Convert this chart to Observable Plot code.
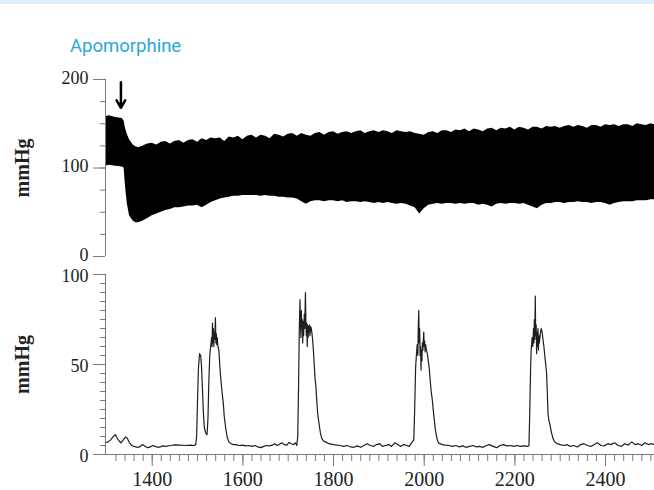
<!DOCTYPE html>
<html>
<head>
<meta charset="utf-8">
<script src="https://cdn.jsdelivr.net/npm/d3@7"></script>
<script src="https://cdn.jsdelivr.net/npm/@observablehq/plot@0.6"></script>
<style>
  html, body { margin: 0; padding: 0; background: #fff; }
  #page { position: relative; width: 654px; height: 490px; overflow: hidden; }
  #band { position: absolute; left: 0; top: 0; width: 654px; height: 4px; background: #e1f0f8; }
  #title { position: absolute; left: 70px; top: 37px; font-family: Roboto, sans-serif; font-size: 18.5px; line-height: 1; color: #29a9d2; white-space: nowrap; }
  #top, #bottom { position: absolute; left: 0; }
  #top { top: 0; }
  #bottom { top: 260px; }
</style>
</head>
<body>
<div id="page">
  <div id="band"></div>
  <div id="title">Apomorphine</div>
  <div id="top"></div>
  <div id="bottom"></div>
</div>
<script>
// ---- Data ----
const xDomain = [1297, 2508];
const xTicks = [1400, 1600, 1800, 2000, 2200, 2400];
const topYTicks = [0, 100, 200];
const botYTicks = [0, 50, 100];
const yLabel = "mmHg";
const arrowX = 1331, arrowFrom = 197, arrowTo = 168;

// Top panel: arterial pressure envelope (upper / lower), mmHg
const topX = [1297, 1305, 1320, 1334, 1338, 1341, 1345, 1350, 1358, 1364,
  1370, 1380, 1390, 1400, 1410, 1420, 1430, 1440, 1450, 1460, 1470, 1480, 1490, 1500, 1510, 1520, 1530, 1540, 1550, 1560,
  1570, 1580, 1590, 1600, 1610, 1620, 1630, 1640, 1650, 1660, 1670, 1680, 1690, 1700, 1710, 1720, 1730, 1740, 1750, 1760,
  1770, 1780, 1790, 1800, 1810, 1820, 1830, 1840, 1850, 1860, 1870, 1880, 1890, 1900, 1910, 1920, 1930, 1940, 1950, 1960,
  1970, 1980, 1990, 2000, 2010, 2020, 2030, 2040, 2050, 2060, 2070, 2080, 2090, 2100, 2110, 2120, 2130, 2140, 2150, 2160,
  2170, 2180, 2190, 2200, 2210, 2220, 2230, 2240, 2250, 2260, 2270, 2280, 2290, 2300, 2310, 2320, 2330, 2340, 2350, 2360,
  2370, 2380, 2390, 2400, 2410, 2420, 2430, 2440, 2450, 2460, 2470, 2480, 2490, 2500, 2508];
const topUpper = [158, 159, 157, 156, 153, 145, 138, 132, 126, 124,
  123, 125, 127, 128, 126, 129, 130, 127, 130, 131, 128, 131, 132, 129, 133, 131, 134, 133, 134, 130,
  135, 134, 136, 132, 136, 137, 134, 137, 136, 133, 138, 137, 135, 138, 139, 136, 139, 137, 136, 139,
  140, 137, 140, 141, 138, 140, 141, 139, 141, 142, 139, 141, 142, 140, 142, 141, 139, 142, 141, 140,
  141, 139, 138, 137, 140, 141, 139, 142, 142, 140, 143, 142, 144, 141, 144, 143, 141, 144, 145, 142,
  145, 144, 146, 143, 146, 145, 143, 146, 146, 144, 147, 146, 147, 145, 147, 148, 146, 148, 147, 145,
  148, 148, 146, 149, 148, 149, 147, 149, 149, 147, 150, 149, 148, 150, 149];
const topLower = [102, 103, 102, 101, 100, 80, 60, 46, 40, 38,
  38, 40, 43, 46, 48, 50, 52, 53, 55, 55, 56, 57, 57, 58, 55, 58, 61, 63, 65, 66,
  67, 68, 68, 69, 69, 69, 69, 68, 69, 68, 68, 67, 67, 66, 66, 65, 62, 59, 62, 63,
  63, 62, 63, 63, 62, 63, 61, 62, 62, 61, 62, 61, 60, 61, 60, 61, 60, 59, 60, 59,
  57, 55, 48, 54, 58, 59, 60, 59, 60, 60, 59, 60, 59, 60, 60, 58, 59, 58, 56, 59,
  60, 59, 60, 60, 59, 60, 58, 56, 54, 58, 60, 60, 61, 61, 60, 61, 61, 62, 61, 61,
  60, 61, 61, 60, 58, 60, 61, 62, 62, 62, 63, 63, 63, 64, 64];

// Bottom panel: pressure trace, mmHg
const botX = [
  1297, 1303, 1308, 1314, 1319, 1323, 1327, 1331, 1336, 1341, 1345, 1350, 1355, 1360, 1366, 1372, 1379, 1385, 1390, 1396, 1401, 1407, 1412, 1418, 1423, 1430, 1440, 1450, 1462, 1473, 1485, 1492, 1496,
  1498, 1500, 1502, 1504.5, 1507, 1509, 1511, 1513, 1515, 1518, 1521, 1523, 1525, 1527, 1529, 1531, 1532, 1533, 1534, 1535, 1536, 1537, 1538, 1539.5, 1540.5, 1541.5, 1542.5, 1543.5, 1545, 1547, 1549, 1551, 1554, 1557, 1559, 1562, 1565, 1569, 1574, 1579,
  1585, 1592, 1600, 1607, 1613, 1620, 1627, 1633, 1640, 1646, 1652, 1659, 1665, 1670, 1675, 1680, 1686, 1691, 1697, 1702, 1707, 1712, 1716, 1719,
  1721, 1723, 1724.5, 1726, 1727, 1728, 1729, 1730, 1731, 1732, 1733, 1734, 1735.5, 1736.5, 1738, 1739, 1740, 1741, 1742, 1743, 1744, 1745, 1746, 1747, 1748, 1749.5, 1751, 1753, 1755, 1757, 1759, 1761, 1763, 1765, 1768, 1771, 1774, 1778, 1782, 1790, 1800,
  1808, 1815, 1822, 1830, 1838, 1845, 1852, 1860, 1867, 1874, 1881, 1888, 1895, 1902, 1908, 1915, 1922, 1928, 1935, 1942, 1948, 1955, 1962, 1967, 1971, 1975,
  1977, 1979, 1981, 1983, 1984.5, 1986, 1987, 1988, 1989, 1990, 1991, 1992, 1993, 1994, 1995, 1996, 1997, 1999, 2000, 2001, 2002, 2003, 2005, 2007, 2009, 2011, 2013, 2015, 2018, 2021, 2025, 2029, 2032, 2040, 2047,
  2055, 2062, 2070, 2078, 2085, 2092, 2100, 2108, 2115, 2122, 2130, 2137, 2144, 2152, 2160, 2167, 2175, 2182, 2190, 2198, 2205, 2212, 2220, 2228, 2231,
  2233, 2234.6, 2236, 2238, 2239.5, 2241, 2242, 2243, 2244, 2245, 2246, 2247, 2248, 2249, 2250, 2251, 2252, 2253, 2254, 2256, 2258, 2260, 2262, 2264, 2266, 2268, 2270, 2271.5, 2273, 2275, 2277, 2280, 2284, 2288, 2293, 2300,
  2308, 2315, 2322, 2330, 2338, 2345, 2352, 2360, 2368, 2375, 2382, 2390, 2397, 2405, 2412, 2420, 2428, 2435, 2442, 2450, 2458, 2465, 2472, 2480, 2487, 2494, 2500, 2508
];
const botY = [
  6.5, 7, 8, 10, 11, 9, 7.5, 6.5, 8, 9.8, 9, 6.5, 5, 4.5, 4, 4.2, 5.5, 4.5, 3.8, 4.2, 5, 4.5, 4, 4.2, 4.8, 4.5, 5, 5.3, 5.2, 5, 5.2, 5, 5.5,
  10, 30, 48, 56, 55, 48, 35, 23, 15, 12, 11, 20, 41, 55, 60, 65, 60, 73, 62, 70, 60, 68, 64, 76, 62, 67, 61, 65, 60, 58, 50, 43, 35, 28, 21, 15, 10, 7, 6, 5.5,
  5.5, 5, 5.2, 4.8, 5, 4.5, 5, 4.2, 3.8, 4.5, 5, 4.8, 5.2, 6, 5, 5.5, 6.5, 5.5, 5.2, 6.7, 6, 5.5, 6.5, 5,
  10, 40, 70, 86, 72, 65, 80, 70, 75, 62, 74, 66, 78, 70, 90, 74, 66, 73, 60, 72, 65, 71, 68, 72, 66, 71, 70, 66, 60, 52, 43, 38, 30, 23, 17, 12, 9, 7.5, 7, 6, 5.5,
  5.2, 5, 4.5, 5, 4.2, 4, 4.8, 4, 5, 6, 5, 4.5, 5.5, 6, 4.5, 5, 5.5, 4.5, 6.5, 5.5, 4.5, 5.5, 5, 4.5, 6, 7.5,
  8, 25, 48, 56, 61, 55, 72, 80, 62, 70, 55, 60, 47, 58, 52, 62, 58, 68, 60, 63, 57, 61, 58, 56, 52, 48, 42, 36, 30, 22, 13, 8, 6.3, 5.5, 5.2,
  5, 4.5, 5, 4.2, 4.8, 4, 4.5, 5, 4.2, 4.5, 4, 5, 5.5, 4.5, 3.8, 5, 5.5, 4.8, 5, 4.5, 5, 4.5, 4.8, 4.5, 5,
  25, 47, 58, 65, 60, 70, 62, 75, 64, 88, 66, 72, 56, 68, 60, 70, 58, 66, 62, 67, 70, 68, 64, 60, 55, 50, 45, 35, 23, 19, 17, 13, 9, 7, 6, 5.5,
  5, 5.5, 4.5, 5, 4.2, 5.5, 6, 5, 4.5, 5.5, 6.5, 5, 4.8, 6, 5.5, 6.5, 5, 4.5, 6, 5.2, 7, 5.5, 6, 5, 6.5, 5.5, 6, 5.5
];

// ---- Build tables ----
const topData = topX.map((x, i) => ({x, lo: topLower[i], hi: topUpper[i]}));
const botData = botX.map((x, i) => ({x, y: botY[i]}));

const axisGray = "#7a7a7a";
const textCol = "#222";
const font = {fontFamily: "'Liberation Serif', 'Times New Roman', serif", fontSize: "20px", background: "transparent", overflow: "visible"};

const topPlot = Plot.plot({
  width: 654, height: 260,
  marginLeft: 105, marginRight: 0, marginTop: 79, marginBottom: 4,
  style: font,
  x: {domain: xDomain, axis: null},
  y: {domain: [0, 200], axis: null},
  marks: [
    Plot.areaY(topData, {x: "x", y1: "lo", y2: "hi", fill: "#000", curve: "linear"}),
    Plot.ruleX([xDomain[0]], {y1: 0, y2: 200, stroke: axisGray}),
    Plot.axisY({ticks: d3.range(0, 201, 25), tickSize: 5, text: null, label: null, stroke: axisGray}),
    Plot.axisY({ticks: topYTicks, tickSize: 12, text: null, label: null, stroke: axisGray}),
    Plot.axisY({ticks: topYTicks, tickSize: 0, tickPadding: 17, label: null, fontSize: 18, dy: -1.5, fill: textCol}),
    Plot.text([yLabel], {frameAnchor: "left", textAnchor: "middle", dx: -83, rotate: -90, fontWeight: "bold", fill: textCol}),
    Plot.arrow([{x: arrowX, y1: arrowFrom, y2: arrowTo}], {x: "x", y1: "y1", y2: "y2", stroke: "#000", strokeWidth: 2.5, headLength: 13, headAngle: 60})
  ]
});
document.getElementById("top").appendChild(topPlot);

const botPlot = Plot.plot({
  width: 654, height: 230,
  marginLeft: 105, marginRight: 0, marginTop: 14, marginBottom: 36,
  style: font,
  x: {domain: xDomain, axis: null},
  y: {domain: [0, 100], axis: null},
  marks: [
    Plot.line(botData, {x: "x", y: "y", stroke: "#1e1e1e", strokeWidth: 1.2}),
    Plot.ruleX([xDomain[0]], {y1: 0, y2: 100, stroke: axisGray}),
    Plot.ruleY([0], {stroke: axisGray}),
    Plot.axisY({ticks: d3.range(0, 101, 5), tickSize: 5, text: null, label: null, stroke: axisGray}),
    Plot.axisY({ticks: botYTicks, tickSize: 12, text: null, label: null, stroke: axisGray}),
    Plot.axisY({ticks: botYTicks, tickSize: 0, tickPadding: 17, label: null, fontSize: 18, dy: 1.5, fill: textCol}),
    Plot.axisX({ticks: d3.range(1320, 2508, 20), tickSize: 7, text: null, label: null, stroke: axisGray}),
    Plot.axisX({ticks: xTicks, tickSize: 12, tickPadding: 5, label: null, tickFormat: d => String(d), stroke: axisGray, fill: textCol}),
    Plot.text([yLabel], {frameAnchor: "left", textAnchor: "middle", dx: -83, rotate: -90, fontWeight: "bold", fill: textCol})
  ]
});
document.getElementById("bottom").appendChild(botPlot);
</script>
</body>
</html>
